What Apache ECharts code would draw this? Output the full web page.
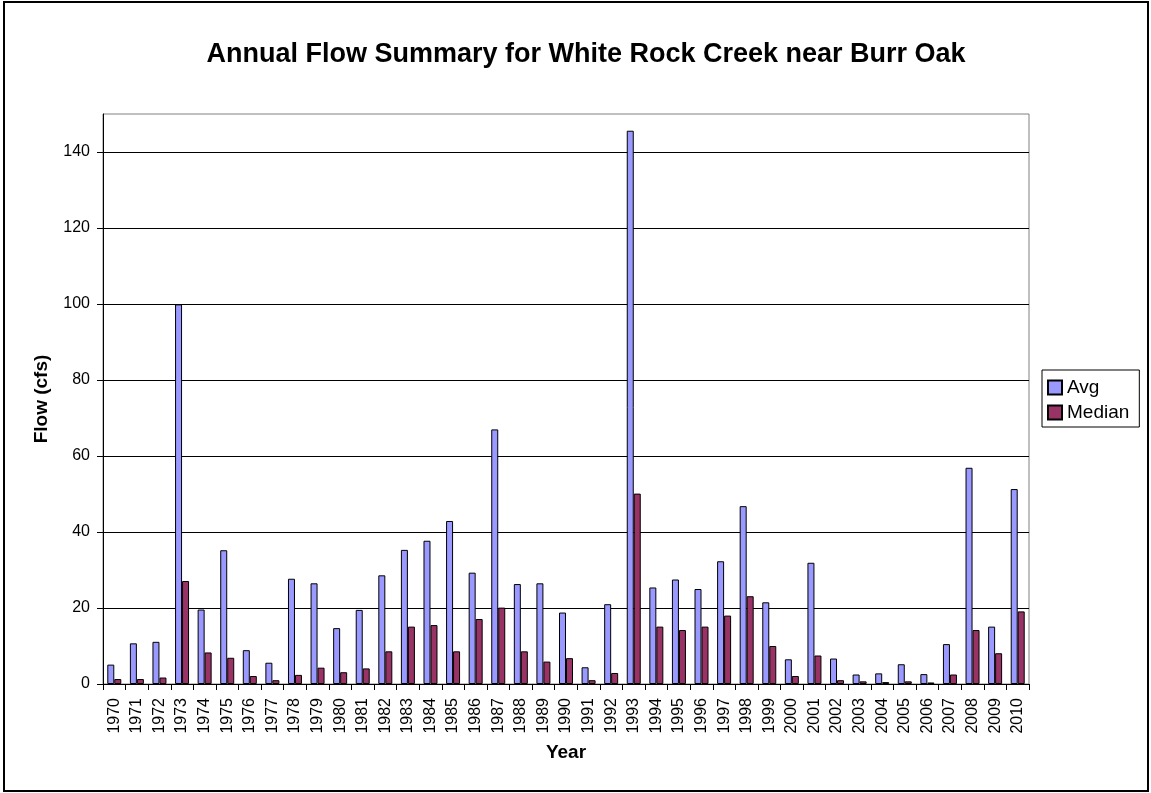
<!DOCTYPE html>
<html>
<head>
<meta charset="utf-8">
<title>Annual Flow Summary for White Rock Creek near Burr Oak</title>
<script src="https://cdn.jsdelivr.net/npm/echarts@6/dist/echarts.min.js"></script>
<style>
  html, body { margin: 0; padding: 0; background: #fff; }
  #chart { width: 1151px; height: 793px; }
</style>
</head>
<body>
<div id="chart"></div>
<script>
// Water years on the category axis
const years = [
  '1970','1971','1972','1973','1974','1975','1976','1977','1978','1979',
  '1980','1981','1982','1983','1984','1985','1986','1987','1988','1989',
  '1990','1991','1992','1993','1994','1995','1996','1997','1998','1999',
  '2000','2001','2002','2003','2004','2005','2006','2007','2008','2009','2010'
];

// Mean annual flow (cfs)
const avgFlow = [
  5.1, 10.7, 11.1, 99.9, 19.6, 35.2, 8.9, 5.6, 27.7, 26.5,
  14.7, 19.5, 28.6, 35.3, 37.7, 42.9, 29.3, 67.0, 26.3, 26.5,
  18.8, 4.4, 21.0, 145.6, 25.4, 27.5, 25.0, 32.3, 46.8, 21.5,
  6.5, 31.9, 6.7, 2.5, 2.8, 5.2, 2.6, 10.5, 56.9, 15.1, 51.3
];

// Median annual flow (cfs)
const medianFlow = [
  1.3, 1.3, 1.7, 27.1, 8.3, 6.9, 2.1, 1.0, 2.4, 4.3,
  3.1, 4.1, 8.6, 15.1, 15.5, 8.6, 17.1, 20.1, 8.6, 5.9,
  6.8, 1.0, 2.9, 50.1, 15.1, 14.2, 15.1, 18.0, 23.1, 10.0,
  2.1, 7.5, 1.0, 0.7, 0.5, 0.7, 0.4, 2.5, 14.2, 8.1, 19.1
];

// Labelled flow ticks
const flowTicks = [0, 20, 40, 60, 80, 100, 120, 140];

const FONT = '"Liberation Sans", Arial, Helvetica, sans-serif';

const chart = echarts.init(document.getElementById('chart'), null, { renderer: 'canvas' });

chart.setOption({
  animation: false,
  backgroundColor: '#ffffff',
  textStyle: { fontFamily: FONT, color: '#000' },
  title: {
    text: 'Annual Flow Summary for White Rock Creek near Burr Oak',
    left: 581,
    top: 36,
    textAlign: 'center',
    textStyle: { fontFamily: FONT, fontSize: 27, fontWeight: 'bold', color: '#000' }
  },
  graphic: [{
    type: 'rect',
    silent: true,
    z: 100,
    shape: { x: 4, y: 2, width: 1144, height: 789 },
    style: { fill: 'none', stroke: '#000', lineWidth: 2 }
  }],
  legend: {
    orient: 'vertical',
    left: 1042,
    top: 370,
    width: 103,
    padding: [8, 10, 5, 5],
    itemGap: 6,
    itemWidth: 14,
    itemHeight: 14,
    borderColor: '#000',
    borderWidth: 1,
    backgroundColor: '#fff',
    icon: 'rect',
    textStyle: { fontFamily: FONT, fontSize: 19, color: '#000' },
    data: ['Avg', 'Median']
  },
  grid: {
    left: 103,
    right: 122,
    top: 114,
    bottom: 109,
    show: true,
    borderColor: '#808080',
    borderWidth: 1,
    backgroundColor: 'transparent',
    containLabel: false
  },
  xAxis: {
    type: 'category',
    data: years,
    name: 'Year',
    nameLocation: 'middle',
    nameGap: 59,
    nameTextStyle: { fontFamily: FONT, fontSize: 19, fontWeight: 'bold', color: '#000' },
    boundaryGap: true,
    axisLine: { show: true, lineStyle: { color: '#000', width: 1 } },
    axisTick: { show: true, alignWithLabel: false, length: 6, interval: 0, lineStyle: { color: '#000' } },
    axisLabel: {
      interval: 0,
      rotate: 90,
      margin: 14,
      fontFamily: FONT,
      fontSize: 16,
      color: '#000'
    },
    splitLine: { show: false }
  },
  yAxis: {
    type: 'value',
    min: 0,
    max: 150,
    interval: 20,
    name: 'Flow (cfs)',
    nameLocation: 'middle',
    nameRotate: 90,
    nameGap: 52,
    nameTextStyle: { fontFamily: FONT, fontSize: 19, fontWeight: 'bold', color: '#000' },
    axisLine: { show: true, lineStyle: { color: '#000', width: 1 } },
    axisTick: { show: true, length: 6, customValues: flowTicks, lineStyle: { color: '#000' } },
    axisLabel: {
      customValues: flowTicks,
      margin: 13,
      fontFamily: FONT,
      fontSize: 16,
      color: '#000'
    },
    splitLine: { show: true, lineStyle: { color: '#000', width: 1 } }
  },
  series: [
    {
      name: 'Avg',
      type: 'bar',
      data: avgFlow,
      barWidth: 7,
      barGap: '0%',
      itemStyle: { color: '#9999FF', borderColor: '#000', borderWidth: 1 }
    },
    {
      name: 'Median',
      type: 'bar',
      data: medianFlow,
      barWidth: 7,
      barGap: '0%',
      itemStyle: { color: '#993366', borderColor: '#000', borderWidth: 1 }
    }
  ]
});
</script>
</body>
</html>
